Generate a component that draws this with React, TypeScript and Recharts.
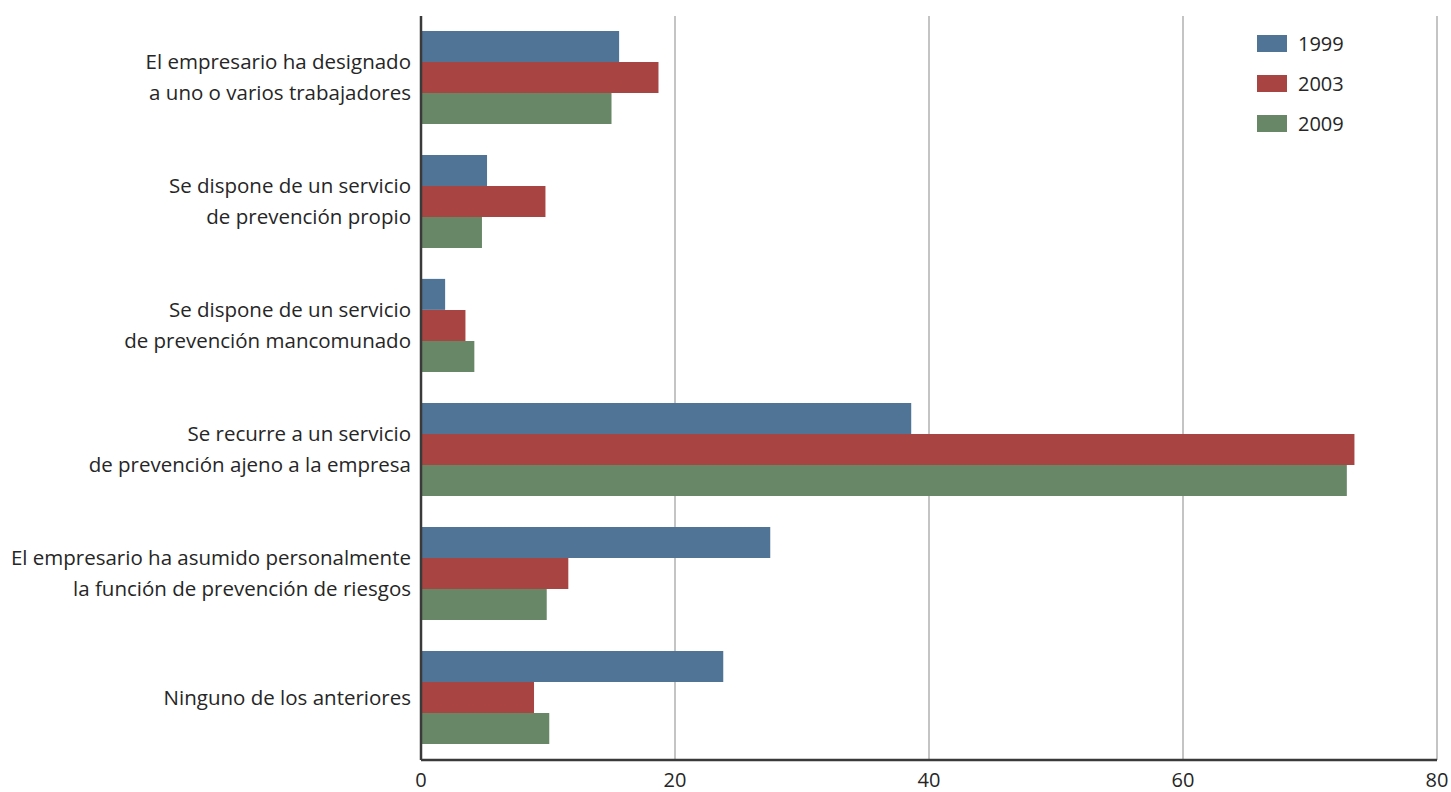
import React from 'react';
import { BarChart, Bar, XAxis, YAxis, CartesianGrid, Legend } from 'recharts';

// Category labels, one entry per line of the label
const categoryLines: string[][] = [
  ['El empresario ha designado', 'a uno o varios trabajadores'],
  ['Se dispone de un servicio', 'de prevención propio'],
  ['Se dispone de un servicio', 'de prevención mancomunado'],
  ['Se recurre a un servicio', 'de prevención ajeno a la empresa'],
  ['El empresario ha asumido personalmente', 'la función de prevención de riesgos'],
  ['Ninguno de los anteriores'],
];

const values1999 = [15.6, 5.2, 1.9, 38.6, 27.5, 23.8];
const values2003 = [18.7, 9.8, 3.5, 73.5, 11.6, 8.9];
const values2009 = [15.0, 4.8, 4.2, 72.9, 9.9, 10.1];

const seriesNames = ['1999', '2003', '2009'];
const seriesColors = ['#4f7496', '#a84442', '#678766'];
const xTicks = [0, 20, 40, 60, 80];

const seriesValues = [values1999, values2003, values2009];

const data = categoryLines.map((lines, i) => {
  const row: Record<string, string | number> = { name: lines.join('\n') };
  seriesNames.forEach((s, k) => {
    row[s] = seriesValues[k][i];
  });
  return row;
});

const FONT = '"Open Sans", Lato, sans-serif';
const TEXT_COLOR = '#262626';

const CategoryTick = (props: any) => {
  const { x, y, payload } = props;
  const lines = String(payload.value).split('\n');
  const lineH = 31;
  const startY = y - 1.5 - ((lines.length - 1) * lineH) / 2;
  return (
    <g>
      {lines.map((ln, i) => (
        <text
          key={i}
          x={x - 10}
          y={startY + i * lineH}
          textAnchor="end"
          dominantBaseline="central"
          fontFamily={FONT}
          fontSize={20.5}
          fill={TEXT_COLOR}
        >
          {ln}
        </text>
      ))}
    </g>
  );
};

const ValueTick = (props: any) => {
  const { x, y, payload } = props;
  return (
    <text
      x={x}
      y={y + 19}
      textAnchor="middle"
      dominantBaseline="central"
      fontFamily={FONT}
      fontSize={20}
      fill={TEXT_COLOR}
    >
      {payload.value}
    </text>
  );
};

const LegendBox = () => (
  <div style={{ fontFamily: FONT, fontSize: 20, color: TEXT_COLOR }}>
    {seriesNames.map((s, i) => (
      <div key={s} style={{ display: 'flex', alignItems: 'center', height: 40 }}>
        <div style={{ width: 30, height: 17, background: seriesColors[i], marginRight: 11 }} />
        <span>{s}</span>
      </div>
    ))}
  </div>
);

export default function App() {
  return (
    <div style={{ position: 'absolute', left: 0, top: 0, background: '#fff' }}>
      <BarChart
        width={1451}
        height={792}
        data={data}
        layout="vertical"
        margin={{ top: 16, right: 14, bottom: 2, left: 0 }}
        barCategoryGap="12%"
        barGap={0}
      >
        <CartesianGrid horizontal={false} vertical stroke="#c4c4c4" strokeWidth={2} />
        <XAxis
          type="number"
          domain={[0, 80]}
          ticks={xTicks}
          height={30}
          tickLine={false}
          tickSize={0}
          tickMargin={0}
          axisLine={{ stroke: '#3a3a3a', strokeWidth: 2.5 }}
          tick={<ValueTick />}
          interval={0}
        />
        <YAxis
          type="category"
          dataKey="name"
          width={421}
          tickLine={false}
          tickSize={0}
          tickMargin={0}
          axisLine={{ stroke: '#3a3a3a', strokeWidth: 2.5 }}
          tick={<CategoryTick />}
          interval={0}
        />
        <Legend
          layout="horizontal"
          align="center"
          verticalAlign="middle"
          content={<LegendBox />}
          wrapperStyle={{ position: 'absolute', left: 1257, top: 23, width: 120 }}
        />
        {seriesNames.map((s, i) => (
          <Bar key={s} dataKey={s} fill={seriesColors[i]} isAnimationActive={false} />
        ))}
      </BarChart>
    </div>
  );
}
